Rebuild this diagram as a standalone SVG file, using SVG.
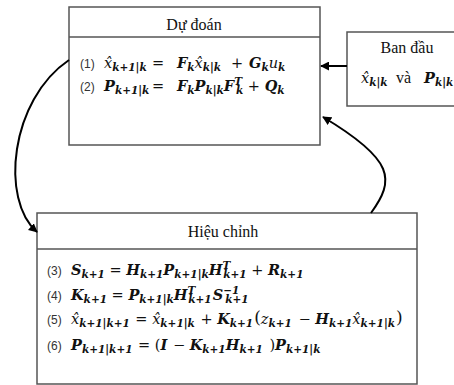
<svg xmlns="http://www.w3.org/2000/svg" width="454" height="385" viewBox="0 0 454 385">
<style>
.box{fill:#fff;stroke:#555;stroke-width:1.5}
.hd{font-family:"Liberation Serif",serif;font-size:16px;fill:#111;text-anchor:middle}
.l{font-family:"Liberation Sans",sans-serif;font-size:12px;fill:#333}
.m{font-family:"DejaVu Serif",serif;font-style:italic;font-weight:bold;font-size:14.5px;fill:#111}
.v{font-weight:normal}
.s{font-size:10.5px}
.n{font-style:normal;font-weight:normal}
.c{fill:none;stroke:#000;stroke-width:2}
</style>
<defs>
<marker id="ah" viewBox="0 0 10 10" refX="9" refY="5" markerWidth="4.5" markerHeight="4.5" orient="auto" markerUnits="strokeWidth">
<path d="M0,0 L10,5 L0,10 z" fill="#000"/>
</marker>
</defs>

<g id="ban-dau">
<rect class="box" x="347" y="32" width="130" height="74"/>
<text class="hd" x="407" y="53">Ban đầu</text>
<text class="m" x="361" y="83"><tspan class="v">x̂</tspan><tspan class="s" dy="3">k|k</tspan><tspan class="n" dy="-3" x="396" style="font-family:'Liberation Serif',serif;font-size:16px">và</tspan><tspan x="424">P</tspan><tspan class="s" dy="3">k|k</tspan></text>
</g>

<g id="du-doan">
<rect class="box" x="69" y="7" width="251" height="138"/>
<line class="box" x1="69" y1="37" x2="320" y2="37"/>
<text class="hd" x="194" y="30">Dự đoán</text>
<text class="l" x="80" y="68">(1)</text>
<text class="m" x="104" y="68"><tspan class="v">x̂</tspan><tspan class="s" dy="3">k+1|k</tspan><tspan class="n" dy="-3" x="152">=</tspan><tspan x="177">F</tspan><tspan class="s" dy="3">k</tspan><tspan class="v" dy="-3">x̂</tspan><tspan class="s" dy="3">k|k</tspan><tspan class="n" dy="-3" x="231">+</tspan><tspan x="249">G</tspan><tspan class="s" dy="3">k</tspan><tspan class="v" dy="-3">u</tspan><tspan class="s" dy="3">k</tspan></text>
<text class="l" x="80" y="91">(2)</text>
<text class="m" x="104" y="91"><tspan>P</tspan><tspan class="s" dy="3">k+1|k</tspan><tspan class="n" dy="-3" x="152">=</tspan><tspan x="177">F</tspan><tspan class="s" dy="3">k</tspan><tspan dy="-3">P</tspan><tspan class="s" dy="3">k|k</tspan><tspan dy="-3">F</tspan><tspan class="s" dy="-6">T</tspan><tspan class="s" dx="-6" dy="9">k</tspan><tspan class="n" dy="-3"> + </tspan><tspan>Q</tspan><tspan class="s" dy="3">k</tspan></text>
</g>

<g id="hieu-chinh">
<rect class="box" x="37" y="213" width="380" height="171"/>
<line class="box" x1="37" y1="249" x2="417" y2="249"/>
<text class="hd" x="223" y="237">Hiệu chỉnh</text>
<text class="l" x="47" y="275">(3)</text>
<text class="m" x="71" y="275"><tspan>S</tspan><tspan class="s" dy="3">k+1</tspan><tspan class="n" dy="-3"> = </tspan><tspan>H</tspan><tspan class="s" dy="3">k+1</tspan><tspan dy="-3">P</tspan><tspan class="s" dy="3">k+1|k</tspan><tspan dy="-3">H</tspan><tspan class="s" dy="-6">T</tspan><tspan class="s" dx="-7" dy="9">k+1</tspan><tspan class="n" dy="-3"> + </tspan><tspan>R</tspan><tspan class="s" dy="3">k+1</tspan></text>
<text class="l" x="47" y="300">(4)</text>
<text class="m" x="71" y="300"><tspan>K</tspan><tspan class="s" dy="3">k+1</tspan><tspan class="n" dy="-3"> =  </tspan><tspan>P</tspan><tspan class="s" dy="3">k+1|k</tspan><tspan dy="-3">H</tspan><tspan class="s" dy="-6">T</tspan><tspan class="s" dx="-7" dy="9">k+1</tspan><tspan dy="-3" dx="1">S</tspan><tspan class="s" dy="-6">−1</tspan><tspan class="s" dx="-14" dy="9">k+1</tspan></text>
<text class="l" x="47" y="324">(5)</text>
<text class="m" x="71" y="324"><tspan class="v">x̂</tspan><tspan class="s" dy="3">k+1|k+1</tspan><tspan class="n" dy="-3" dx="1"> = </tspan><tspan class="v">x̂</tspan><tspan class="s" dy="3">k+1|k</tspan><tspan class="n" dy="-3" dx="1"> + </tspan><tspan>K</tspan><tspan class="s" dy="3">k+1</tspan><tspan class="n" dy="-4" dx="1" style="font-size:17px">(</tspan><tspan class="v" dy="1">z</tspan><tspan class="s" dy="3">k+1</tspan><tspan class="n" dy="-3" dx="2"> − </tspan><tspan>H</tspan><tspan class="s" dy="3">k+1</tspan><tspan class="v" dy="-3">x̂</tspan><tspan class="s" dy="3">k+1|k</tspan><tspan class="n" dy="-4" dx="1" style="font-size:17px">)</tspan></text>
<text class="l" x="47" y="350">(6)</text>
<text class="m" x="71" y="350"><tspan>P</tspan><tspan class="s" dy="3">k+1|k+1</tspan><tspan class="n" dy="-3" dx="1"> = (</tspan><tspan>I</tspan><tspan class="n" dx="1"> − </tspan><tspan>K</tspan><tspan class="s" dy="3">k+1</tspan><tspan dy="-3">H</tspan><tspan class="s" dy="3">k+1</tspan><tspan class="n" dy="-3" dx="2"> )</tspan><tspan>P</tspan><tspan class="s" dy="3">k+1|k</tspan></text>
</g>

<g id="connectors">
<path class="c" d="M347,66 L321,66" marker-end="url(#ah)"/>
<path class="c" d="M69,60 C10,100 0,200 37,232" marker-end="url(#ah)"/>
<path class="c" d="M371,213 C395,180 395,160 323,117" marker-end="url(#ah)"/>
</g>
</svg>
